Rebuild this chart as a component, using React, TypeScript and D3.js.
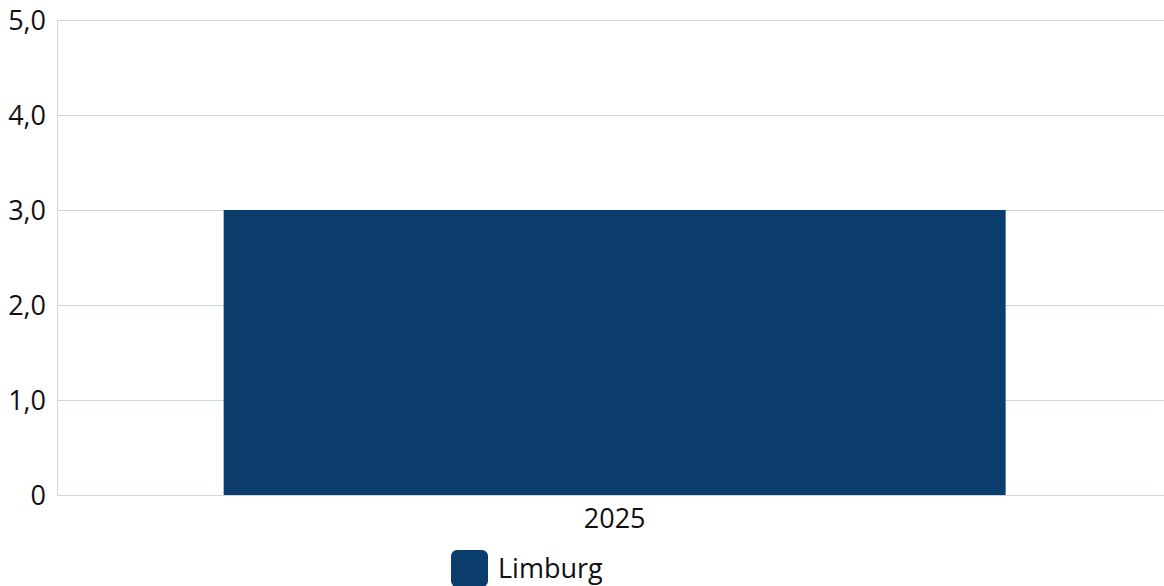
import { FC, useRef, useEffect } from 'react'
import * as d3 from 'd3'

const categories = ['2025']
const seriesName = 'Limburg'
const values = [3.0]
const yTicks = [0, 1, 2, 3, 4, 5]

const App: FC = () => {
  const svgRef = useRef<SVGSVGElement>(null)

  useEffect(() => {
    if (!svgRef.current) return
    document.body.style.margin = '0'

    const svg = d3.select(svgRef.current)
    svg.selectAll('*').remove()

    const width = 1164
    const height = 586
    const margin = { top: 20, right: 0, bottom: 91, left: 57.5 }
    const font = "'Open Sans', 'Noto Sans', sans-serif"
    const fontSize = '27px'
    const barColor = '#0a3d6b'
    const gridColor = '#ccd5e0'
    const textColor = '#111'

    svg.attr('width', width).attr('height', height)

    const x = d3.scaleBand()
      .domain(categories)
      .range([margin.left, width - margin.right])
      .paddingInner(0)
      .paddingOuter(0.2075)
      .align(0.512)

    const y = d3.scaleLinear()
      .domain([0, 5])
      .range([height - margin.bottom, margin.top])

    // gridlines
    svg.append('g')
      .selectAll('line')
      .data(yTicks)
      .join('line')
      .attr('x1', margin.left)
      .attr('x2', width - margin.right)
      .attr('y1', d => Math.round(y(d)) + 0.5)
      .attr('y2', d => Math.round(y(d)) + 0.5)
      .attr('stroke', gridColor)
      .attr('stroke-width', 1)

    // left axis line
    svg.append('line')
      .attr('x1', margin.left)
      .attr('x2', margin.left)
      .attr('y1', y(5))
      .attr('y2', y(0) + 0.5)
      .attr('stroke', gridColor)

    // y labels
    svg.append('g')
      .selectAll('text')
      .data(yTicks)
      .join('text')
      .attr('x', 46)
      .attr('y', d => y(d))
      .attr('dy', '0.36em')
      .attr('text-anchor', 'end')
      .attr('font-family', font)
      .attr('font-size', fontSize)
      .attr('fill', textColor)
      .text(d => d === 0 ? '0' : d3.format('.1f')(d).replace('.', ','))

    // bars
    svg.append('g')
      .selectAll('rect')
      .data(values)
      .join('rect')
      .attr('x', (_, i) => x(categories[i]) || 0)
      .attr('y', d => y(d))
      .attr('width', x.bandwidth())
      .attr('height', d => y(0) - y(d))
      .attr('fill', barColor)

    // x labels
    svg.append('g')
      .selectAll('text')
      .data(categories)
      .join('text')
      .attr('x', d => (x(d) || 0) + x.bandwidth() / 2)
      .attr('y', 528)
      .attr('text-anchor', 'middle')
      .attr('font-family', font)
      .attr('font-size', fontSize)
      .attr('fill', textColor)
      .text(d => d)

    // legend
    const legend = svg.append('g').attr('transform', 'translate(451,550)')
    legend.append('rect')
      .attr('width', 37)
      .attr('height', 37)
      .attr('rx', 6)
      .attr('fill', barColor)
    legend.append('text')
      .attr('x', 47)
      .attr('y', 28)
      .attr('font-family', font)
      .attr('font-size', fontSize)
      .attr('fill', textColor)
      .text(seriesName)
  }, [])

  return (
    <div style={{ position: 'absolute', left: 0, top: 0 }}>
      <svg ref={svgRef} style={{ display: 'block' }} />
    </div>
  )
}

export default App
